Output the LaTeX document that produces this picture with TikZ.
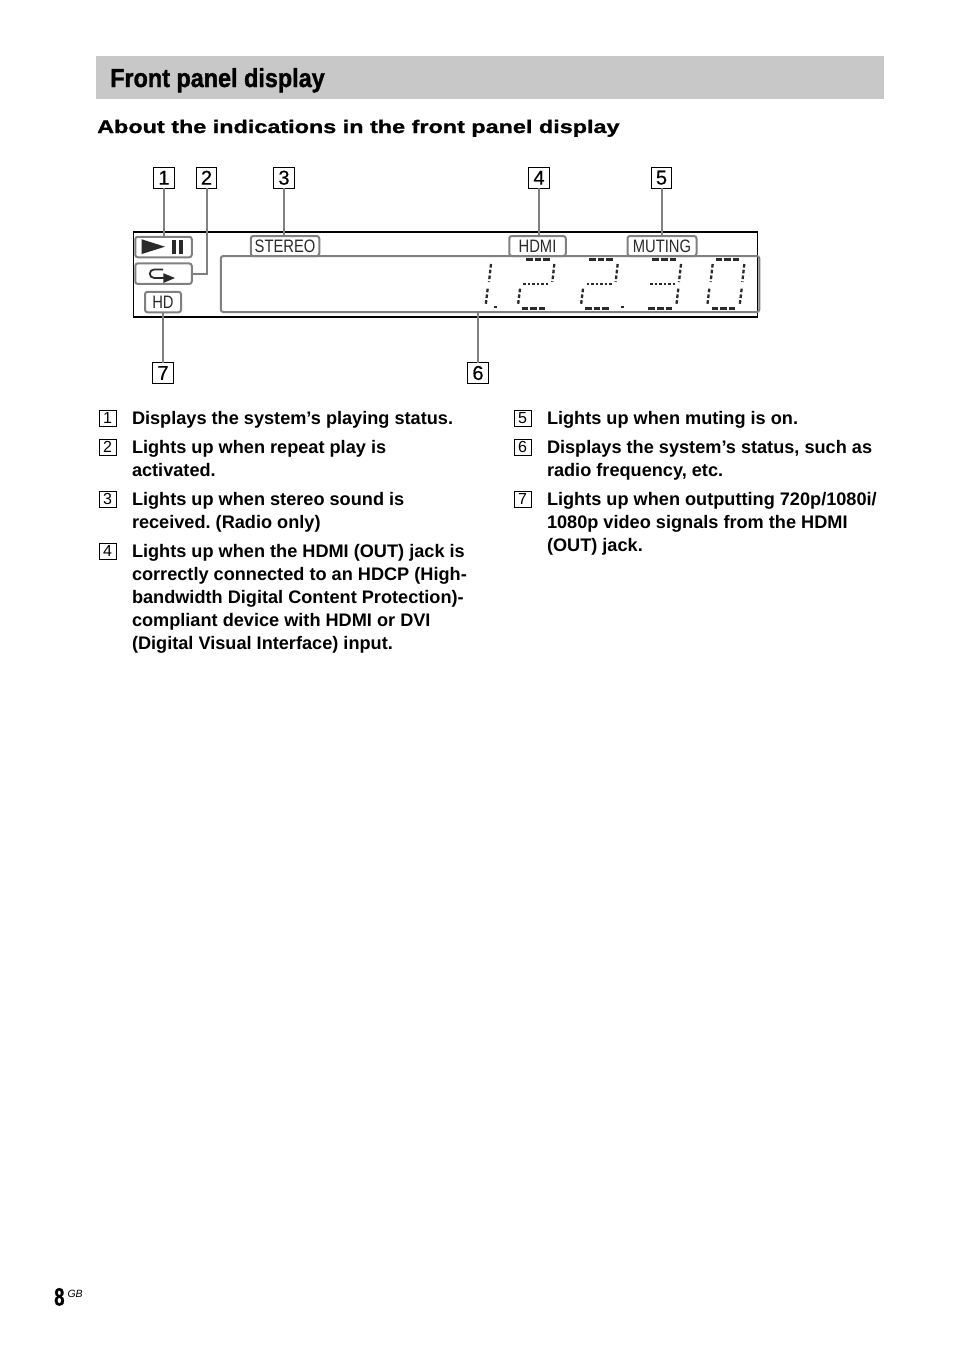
\documentclass[tikz,border=0pt]{standalone}
\usepackage{fontspec}
\setmainfont{Liberation Sans}
\newfontfamily\titlefont[FakeStretch=0.9,FakeBold=1.4]{Liberation Sans Bold}
\newfontfamily\pagefont[FakeStretch=0.74,FakeBold=1]{Liberation Sans Bold}
\newfontfamily\headfont[FakeStretch=1.285,FakeBold=1.2]{Liberation Sans Bold}
\newfontfamily\lcdfont[FakeStretch=0.82]{Liberation Sans}
\newfontfamily\bodyfont{Liberation Sans Bold}
\newfontfamily\numfont[FakeBold=0.4]{Liberation Sans}
\newfontfamily\obfont{Liberation Sans Italic}
\definecolor{banner}{HTML}{C8C8C8}
\definecolor{leader}{HTML}{808080}
\definecolor{lcdink}{HTML}{2A2A2A}
\newcommand{\firstline}{\rule{0pt}{14pt}}
\tikzset{
  callout/.style={draw=black,line width=0.8pt,fill=white,inner sep=0pt,outer sep=0pt,minimum width=20.5pt,minimum height=20.5pt,font=\numfont\fontsize{20}{20}\selectfont},
  itemno/.style={draw=black,line width=0.6pt,inner sep=0pt,outer sep=0pt,minimum width=17pt,minimum height=16pt,font=\fontsize{16}{16}\selectfont},
  itemtext/.style={anchor=north west,inner sep=0pt,outer sep=0pt,align=left,font=\bodyfont\fontsize{18.15}{23}\selectfont\frenchspacing},
  lcdbox/.style={draw=leader,line width=2pt,rounded corners=2.5pt,inner sep=0pt,outer sep=0pt,text=lcdink,font=\lcdfont\fontsize{18}{18}\selectfont},
  leaderline/.style={draw=leader,line width=2pt},
  segh/.style={draw=lcdink,line width=2.6pt,dash pattern=on 6.6pt off 2pt},
  segv/.style={draw=lcdink,line width=2.3pt,dash pattern=on 3.6pt off 2.2pt},
  segm/.style={draw=lcdink,line width=1.8pt,dash pattern=on 2.5pt off 2pt},
  segd/.style={fill=lcdink,draw=none}
}
\newcommand{\lowered}[1]{\raisebox{-1pt}{#1}}
\newcommand{\segtop}[1]{\draw[segh] (#1,298) -- ++(74,0);}
\newcommand{\segbot}[1]{\draw[segh] (#1,445) -- ++(74,0);}
\newcommand{\segmid}[1]{\draw[segm] (#1,373) -- ++(76,0);}
\newcommand{\segup}[1]{\draw[segv] (#1+3,312) -- (#1-3,366);}
\newcommand{\seglo}[1]{\draw[segv] (#1+3,386) -- (#1-3,436);}
\begin{document}
\begin{tikzpicture}[x=1pt,y=-1pt]
\useasboundingbox (0,0) rectangle (954,1352);
\fill[white] (0,0) rectangle (954,1352);
\node[fill=banner,anchor=north west,inner sep=0pt,outer sep=0pt,minimum width=788pt,minimum height=43pt] (banner) at (96,56) {};
\node[anchor=base west,inner sep=0pt,font=\titlefont\fontsize{26}{26}\selectfont] (title) at (110,87) {Front panel display};
\node[anchor=base west,inner sep=0pt,font=\headfont\fontsize{18.2}{18.2}\selectfont] (head) at (97,133) {About the indications in the front panel display};

\node[draw=black,line width=1.8pt,anchor=north west,inner sep=0pt,outer sep=0pt,minimum width=624pt,minimum height=85pt] (panel) at (133.5,232) {};
\node[lcdbox,minimum width=56.5pt,minimum height=20.5pt] (pp) at (163.5,247) {};
\node[lcdbox,minimum width=56.5pt,minimum height=20.5pt] (rep) at (163.5,273.7) {};
\node[lcdbox,minimum width=36pt,minimum height=20.5pt] (hd) at (163,302) {\lowered{HD}};
\node[lcdbox,minimum width=68.5pt,minimum height=20pt] (stereo) at (285,246) {\lowered{STEREO}};
\node[lcdbox,minimum width=56.5pt,minimum height=20pt] (hdmi) at (537.5,246) {\lowered{HDMI}};
\node[lcdbox,minimum width=69pt,minimum height=20pt] (muting) at (662,246) {\lowered{MUTING}};
\node[lcdbox,minimum width=538.5pt,minimum height=56pt] (disp) at (490,284) {};

\fill[lcdink] (141.7,239.3) -- (165,246.7) -- (141.7,254) -- cycle;
\fill[lcdink] (171.7,240) rectangle (176.3,254);
\fill[lcdink] (178.5,240) rectangle (183.3,254);
\draw[lcdink,line width=1.8pt] (163,269.5) -- (154,269.5) .. controls (148.5,269.5) and (148.5,277.9) .. (154,277.9) -- (165,277.9);
\fill[lcdink] (163.3,273.2) -- (175,278) -- (163.3,283) -- cycle;

\begin{scope}[shift={(450,160)},x=0.33333pt,y=-0.33333pt]
  % digit 1
  \segup{120} \seglo{110}
  \fill[segd] (133,437) rectangle (142,444);
  % digit 2
  \segtop{228} \segup{310} \segmid{220} \seglo{207} \segbot{215}
  % digit 3
  \segtop{417} \segup{500} \segmid{410} \seglo{396} \segbot{405}
  \fill[segd] (514,437) rectangle (523,444);
  % digit 4
  \segtop{607} \segup{690} \segmid{600} \seglo{682} \segbot{595}
  % digit 5
  \segtop{797} \segup{785} \segup{880} \seglo{775} \seglo{872} \segbot{785}
\end{scope}

\node[callout] (c1) at (164,177.7) {1};
\node[callout] (c2) at (206.5,177.7) {2};
\node[callout] (c3) at (284,177.7) {3};
\node[callout] (c4) at (539,177.7) {4};
\node[callout] (c5) at (661.5,177.7) {5};
\node[callout] (c6) at (478,373) {6};
\node[callout] (c7) at (163,373) {7};

\draw[leaderline] (c1.south) -- (c1.south |- pp.north);
\draw[leaderline] (c2.south) |- (rep.east);
\draw[leaderline] (c3.south) -- (c3.south |- stereo.north);
\draw[leaderline] (c4.south) -- (c4.south |- hdmi.north);
\draw[leaderline] (c5.south) -- (c5.south |- muting.north);
\draw[leaderline] (c6.north) -- (c6.north |- disp.south);
\draw[leaderline] (c7.north) -- (c7.north |- hd.south);

\node[itemno] (n1) at (107.5,418) {1};
\node[itemno] (n2) at (107.5,447) {2};
\node[itemno] (n3) at (107.5,499) {3};
\node[itemno] (n4) at (107.5,551) {4};
\node[itemno] (n5) at (522.5,418) {5};
\node[itemno] (n6) at (522.5,447) {6};
\node[itemno] (n7) at (522.5,499) {7};

\node[itemtext] (t1) at (132,410) {\firstline Displays the system’s playing status.};
\node[itemtext] (t2) at (132,439) {\firstline Lights up when repeat play is\\activated.};
\node[itemtext] (t3) at (132,491) {\firstline Lights up when stereo sound is\\received. (Radio only)};
\node[itemtext] (t4) at (132,543) {\firstline Lights up when the HDMI (OUT) jack is\\correctly connected to an HDCP (High-\\bandwidth Digital Content Protection)-\\compliant device with HDMI or DVI\\(Digital Visual Interface) input.};
\node[itemtext] (t5) at (547,410) {\firstline Lights up when muting is on.};
\node[itemtext] (t6) at (547,439) {\firstline Displays the system’s status, such as\\radio frequency, etc.};
\node[itemtext] (t7) at (547,491) {\firstline Lights up when outputting 720p/1080i/\\1080p video signals from the HDMI\\(OUT) jack.};

\node[anchor=base west,inner sep=0pt,font=\pagefont\fontsize{25}{25}\selectfont] (pnum) at (54,1305.5) {8};
\node[anchor=base west,inner sep=0pt,font=\obfont\fontsize{10.5}{10.5}\selectfont] (pgb) at (67.3,1297.7) {GB};
\end{tikzpicture}
\end{document}
